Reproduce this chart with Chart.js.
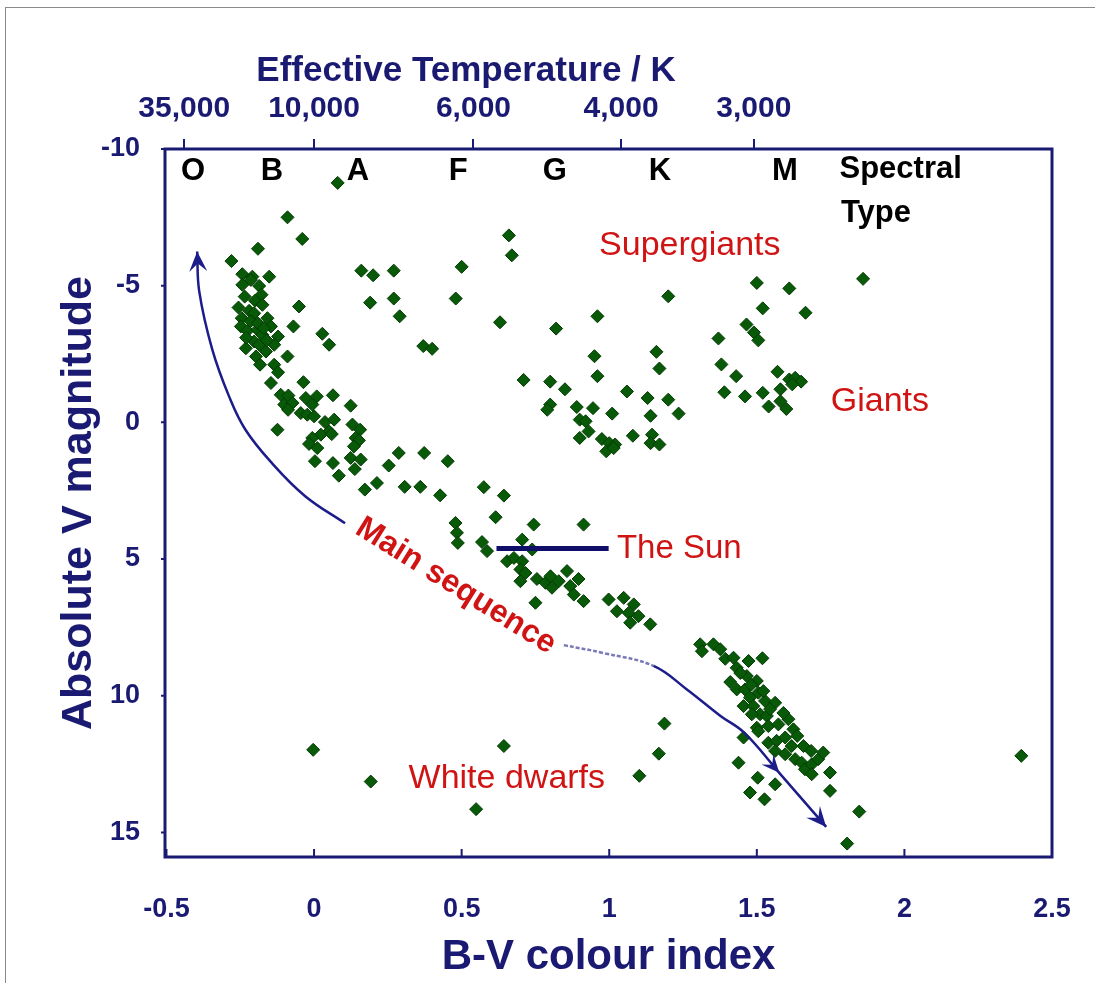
<!DOCTYPE html>
<html>
<head>
<meta charset="utf-8">
<script src="https://cdn.jsdelivr.net/npm/chart.js@4"></script>
<style>
  body { margin: 0; background: #fff; }
  #wrap { position: relative; width: 1095px; height: 983px; }
  #frame { position: absolute; left: 5px; top: 7px; right: 0; bottom: 0; border-top: 1px solid #8a8a8a; border-left: 1px solid #8a8a8a; }
  canvas { position: absolute; left: 0; top: 0; }
</style>
</head>
<body>
<div id="wrap">
  <div id="frame"></div>
  <canvas id="hrChart" width="1095" height="983"></canvas>
</div>
<script>
// [B-V, absolute V magnitude]
const supergiants = [
  [0.08, -8.76], [-0.09, -7.5], [-0.04, -6.71], [-0.19, -6.35], [-0.28, -5.9],
  [0.16, -5.55], [0.2, -5.38], [0.27, -5.55], [0.19, -4.38], [0.27, -4.53],
  [0.29, -3.88], [0.5, -5.69], [0.48, -4.53], [0.37, -2.79], [0.4, -2.69],
  [0.66, -6.84], [0.67, -6.11], [0.63, -3.66], [0.82, -3.43], [0.96, -3.88],
  [1.2, -4.61], [1.5, -5.1], [1.61, -4.9], [1.86, -5.25], [1.52, -4.17],
  [1.665, -4.01], [1.37, -3.07], [1.465, -3.58], [1.49, -3.29], [1.505, -3.0]
];
const giants = [
  [0.95, -2.42], [0.96, -1.69], [1.16, -2.58], [1.17, -1.97], [1.38, -2.12],
  [1.43, -1.69], [1.57, -1.85], [1.61, -1.57], [1.63, -1.63], [1.65, -1.49],
  [1.62, -1.39], [1.58, -1.21], [1.52, -1.08], [1.54, -0.58], [1.58, -0.77],
  [1.6, -0.49], [1.39, -1.1], [1.46, -0.95],
  [0.71, -1.55], [0.8, -1.49], [0.85, -1.21], [0.89, -0.56], [0.9, -0.1],
  [0.92, -0.04], [0.93, 0.33], [0.9, 0.57], [0.945, -0.52], [0.975, 0.61],
  [1.0, 0.76], [1.02, 0.81], [0.99, 1.06], [1.015, 0.94], [1.01, -0.32],
  [1.06, -1.13], [1.13, -0.89], [1.08, 0.49], [1.14, -0.24], [1.145, 0.45],
  [1.14, 0.76], [1.17, 0.81], [1.2, -0.83], [1.235, -0.32], [0.8, -0.65], [0.79, -0.46]
];
const upperMainSequence = [
  [-0.243, -5.42], [-0.209, -5.33], [-0.152, -5.33], [-0.243, -5.03], [-0.186, -4.99],
  [-0.178, -4.67], [-0.214, -5.21], [-0.051, -4.24], [-0.256, -4.2], [-0.22, -4.08],
  [-0.203, -3.99], [-0.158, -3.81], [-0.245, -3.81], [-0.07, -3.51], [-0.248, -3.51],
  [-0.226, -3.35], [-0.192, -3.39], [-0.175, -3.2], [-0.146, -3.51], [-0.122, -3.14],
  [0.028, -3.24], [0.051, -2.84], [-0.231, -2.71], [-0.203, -2.96], [-0.186, -2.84],
  [-0.163, -2.59], [-0.135, -2.84], [-0.197, -2.41], [-0.183, -2.11], [-0.09, -2.41],
  [-0.135, -2.11], [-0.122, -1.83], [-0.146, -1.44], [-0.036, -1.47], [-0.113, -1.01],
  [-0.087, -0.98], [-0.101, -0.65], [-0.073, -0.71], [-0.088, -0.46], [-0.124, 0.27],
  [-0.028, -0.89], [0.009, -0.95], [-0.006, -0.65], [-0.045, -0.34], [-0.023, -0.28],
  [0.0, -0.22], [0.064, -0.99], [0.124, -0.61], [0.037, -0.01], [0.068, -0.1],
  [0.051, 0.33], [0.023, 0.45], [-0.006, 0.57], [-0.017, 0.79], [0.011, 0.94],
  [0.06, 0.43], [0.13, 0.08], [0.156, 0.27], [0.141, 0.57], [0.152, 0.66],
  [0.135, 0.88], [0.124, 1.3], [0.158, 1.36], [0.003, 1.42], [0.064, 1.49],
  [0.138, 1.71], [0.084, 1.95], [-0.215, -3.7], [-0.19, -3.62], [-0.17, -3.45],
  [-0.23, -3.1], [-0.16, -3.0], [-0.2, -4.45], [-0.175, -4.3], [-0.235, -4.6]
];
const middleMainSequence = [
  [0.172, 2.46], [0.213, 2.22], [0.253, 1.58], [0.287, 1.12], [0.373, 1.12],
  [0.453, 1.42], [0.307, 2.36], [0.36, 2.36], [0.427, 2.67], [0.479, 3.68],
  [0.484, 4.04], [0.487, 4.41], [0.575, 2.37], [0.643, 2.68], [0.615, 3.47],
  [0.744, 3.74], [0.913, 3.74], [0.569, 4.38], [0.586, 4.71], [0.705, 4.29],
  [0.739, 4.65], [0.654, 5.08], [0.677, 4.96], [0.705, 5.08], [0.699, 5.38],
  [0.716, 5.51], [0.699, 5.81], [0.755, 5.73], [0.784, 5.87], [0.801, 5.63],
  [0.829, 5.81], [0.806, 6.05], [0.857, 5.44], [0.896, 5.73], [0.868, 5.99],
  [0.88, 6.3], [0.913, 6.54], [0.75, 6.6], [0.998, 6.48], [1.049, 6.42],
  [1.083, 6.66], [1.026, 6.91], [1.066, 6.97], [1.099, 7.09], [1.071, 7.33], [1.139, 7.39]
];
const lowerMainSequence = [
  [1.308, 8.12], [1.314, 8.37], [1.353, 8.12], [1.376, 8.3], [1.393, 8.65],
  [1.421, 8.61], [1.432, 8.98], [1.472, 8.73], [1.519, 8.63], [1.466, 9.28],
  [1.5, 9.46], [1.41, 9.5], [1.432, 9.77], [1.46, 9.77], [1.505, 9.89],
  [1.477, 10.07], [1.455, 10.38], [1.488, 10.38], [1.528, 10.19], [1.562, 10.26],
  [1.511, 10.68], [1.483, 10.68], [1.534, 10.74], [1.5, 11.17], [1.539, 11.11],
  [1.573, 11.05], [1.607, 10.86], [1.624, 11.23], [1.539, 11.72], [1.567, 11.65],
  [1.596, 11.53], [1.618, 11.84], [1.658, 11.84], [1.562, 12.02], [1.596, 12.14],
  [1.63, 12.32], [1.652, 12.45], [1.663, 12.69], [1.686, 12.51], [1.708, 12.32],
  [1.725, 12.08], [1.686, 12.87], [1.748, 12.81], [1.748, 13.48], [1.455, 11.53],
  [1.438, 12.45], [1.503, 13.0], [1.562, 13.24], [1.477, 13.54], [1.526, 13.79],
  [1.444, 9.17], [1.481, 9.6], [1.522, 9.83], [1.545, 10.49], [1.59, 10.63],
  [1.505, 11.3], [1.637, 11.47], [1.684, 12.02],
  [1.187, 11.02], [1.168, 12.12], [1.102, 12.93], [1.806, 15.41], [1.847, 14.24], [2.396, 12.2]
];
const whiteDwarfs = [[-0.003, 11.98], [0.192, 13.14], [0.643, 11.84], [0.549, 14.15]];

// annotation lines
const upperArrow = [[-0.396, -6.25], [-0.389, -4.79], [-0.345, -2.67], [-0.288, -0.95],
  [-0.233, 0.26], [-0.142, 1.5], [-0.03, 2.7], [0.105, 3.69]];
const lowerArrow = [[0.846, 8.15], [0.981, 8.44], [1.15, 8.91], [1.262, 9.76], [1.377, 10.74],
  [1.458, 11.36], [1.576, 12.82], [1.735, 14.8]];
const sunLine = [[0.618, 4.61], [0.998, 4.61]];

// axes
const xTicks = [-0.5, 0, 0.5, 1, 1.5, 2, 2.5];
const yTicks = [-10, -5, 0, 5, 10, 15];
const tempLabels = ['35,000', '10,000', '6,000', '4,000', '3,000'];
const tempBV = [-0.44, 0, 0.54, 1.04, 1.49];
const spectralTypes = ['O', 'B', 'A', 'F', 'G', 'K', 'M'];
const spectralBV = [-0.41, -0.143, 0.149, 0.488, 0.816, 1.172, 1.595];

const NAVY = '#1a1a72';
const ARROW = '#1c1c8a';
const RED = '#d01414';
const FONT = "'Liberation Sans', Arial, sans-serif";
Chart.defaults.font.family = FONT;

const toXY = arr => arr.map(p => ({x: p[0], y: p[1]}));
const stars = (label, arr) => ({
  label, data: toXY(arr), order: 2,
  pointStyle: 'rectRot', pointRadius: 6.5, pointHoverRadius: 6.5,
  backgroundColor: '#085a08', borderColor: '#033a03', borderWidth: 1
});
const path = (label, arr, color, width) => ({
  label, data: toXY(arr), order: 1, showLine: true, tension: 0.4,
  pointRadius: 0, borderColor: color, borderWidth: width
});
// keep the plot box where the reference has it
const noSidePadding = s => { s.paddingLeft = 0; s.paddingRight = 0; };

function head(ctx, x1, y1, x0, y0, len, half) {
  const a = Math.atan2(y1 - y0, x1 - x0);
  const c = Math.cos(a), s = Math.sin(a);
  const bx = x1 - len * c, by = y1 - len * s;
  ctx.beginPath();
  ctx.moveTo(x1, y1);
  ctx.lineTo(bx - half * s, by + half * c);
  ctx.lineTo(x1 - len * 0.6 * c, y1 - len * 0.6 * s);
  ctx.lineTo(bx + half * s, by - half * c);
  ctx.closePath();
  ctx.fill();
}

const annotate = {
  id: 'annotate',
  afterDatasetsDraw(chart) {
    const {ctx, chartArea: a, scales: {x, y}} = chart;
    const px = v => x.getPixelForValue(v), py = v => y.getPixelForValue(v);
    ctx.save();
    ctx.strokeStyle = NAVY;
    ctx.lineWidth = 3;
    ctx.strokeRect(a.left, a.top, a.right - a.left, a.bottom - a.top);
    ctx.lineWidth = 2;
    ctx.beginPath();
    xTicks.forEach(v => { ctx.moveTo(px(v), a.bottom); ctx.lineTo(px(v), a.bottom - 8); });
    yTicks.forEach(v => { ctx.moveTo(a.left - 4, py(v)); ctx.lineTo(a.left, py(v)); });
    ctx.stroke();

    // arrow heads
    ctx.fillStyle = ARROW;
    const u = upperArrow, l = lowerArrow, n = l.length;
    head(ctx, px(u[0][0]), py(u[0][1]), px(u[1][0]), py(u[1][1]), 20, 9);
    head(ctx, px(l[n - 1][0]), py(l[n - 1][1]), px(l[n - 2][0]), py(l[n - 2][1]), 20, 9);
    head(ctx, px(l[n - 2][0]), py(l[n - 2][1]), px(l[n - 3][0]), py(l[n - 3][1]), 18, 8);

    ctx.textBaseline = 'middle';
    ctx.fillStyle = '#000';
    ctx.font = 'bold 31px ' + FONT;
    ctx.textAlign = 'center';
    spectralTypes.forEach((t, i) => ctx.fillText(t, px(spectralBV[i]), py(-9.17)));
    ctx.textAlign = 'left';
    ctx.fillText('Spectral', px(1.78), py(-9.24));
    ctx.fillText('Type', px(1.785), py(-7.64));

    ctx.fillStyle = RED;
    ctx.font = '34px ' + FONT;
    ctx.textAlign = 'center';
    ctx.fillText('Supergiants', px(1.273), py(-6.47));
    ctx.fillText('Giants', px(1.917), py(-0.77));
    ctx.fillText('White dwarfs', px(0.653), py(13.04));
    ctx.textAlign = 'left';
    ctx.font = '33px ' + FONT;
    ctx.fillText('The Sun', px(1.026), py(4.64));
    ctx.save();
    ctx.translate(px(0.48), py(5.99));
    ctx.rotate(32 * Math.PI / 180);
    ctx.textAlign = 'center';
    ctx.font = 'bold 32px ' + FONT;
    ctx.fillText('Main sequence', 0, 0);
    ctx.restore();

    ctx.fillStyle = NAVY;
    ctx.font = 'bold 35px ' + FONT;
    ctx.textAlign = 'center';
    ctx.fillText('Effective Temperature / K', px(0.515), a.top - 78);
    ctx.restore();
  }
};

const myChart = new Chart(
  document.getElementById('hrChart'),
  {
    type: 'scatter',
    data: {
      datasets: [
        path('Sun', sunLine, '#0f0f6a', 5),
        path('Main sequence arrow', upperArrow, ARROW, 2.5),
        Object.assign(path('Main sequence arrow (lower)', lowerArrow, ARROW, 2.5), {
          segment: {
            borderColor: c => c.p0DataIndex < 2 ? '#7a7ab8' : ARROW,
            borderDash: c => c.p0DataIndex < 2 ? [4, 2] : []
          }
        }),
        stars('Supergiants', supergiants),
        stars('Giants', giants),
        stars('Main sequence (upper)', upperMainSequence),
        stars('Main sequence (middle)', middleMainSequence),
        stars('Main sequence (lower)', lowerMainSequence),
        stars('White dwarfs', whiteDwarfs)
      ]
    },
    options: {
      responsive: false,
      animation: false,
      layout: {padding: {left: 0, right: 43, top: 0, bottom: 0}},
      plugins: {legend: {display: false}, tooltip: {enabled: false}},
      scales: {
        x: {
          type: 'linear', position: 'bottom', min: -0.505, max: 2.5,
          afterBuildTicks: s => { s.ticks = xTicks.map(v => ({value: v})); },
          afterFit: s => { s.height = 126; noSidePadding(s); },
          grid: {display: false, drawTicks: false},
          border: {display: false},
          ticks: {
            color: NAVY, font: {size: 27, weight: 'bold'}, padding: 36,
            autoSkip: false, maxRotation: 0, callback: v => String(v)
          },
          title: {display: true, text: 'B-V colour index', color: NAVY,
            font: {size: 42, weight: 'bold'}, padding: {top: 0, bottom: 0}}
        },
        x2: {
          type: 'linear', position: 'top', min: -0.505, max: 2.5,
          afterBuildTicks: s => { s.ticks = tempBV.map(v => ({value: v})); },
          afterFit: s => { s.height = 149; noSidePadding(s); },
          grid: {drawOnChartArea: false, drawTicks: true, tickLength: 10, color: NAVY, lineWidth: 2},
          border: {display: false},
          ticks: {
            color: NAVY, font: {size: 30, weight: 'bold'}, padding: 12,
            autoSkip: false, maxRotation: 0, callback: (v, i) => tempLabels[i]
          }
        },
        y: {
          type: 'linear', position: 'left', reverse: true, min: -10, max: 15.9,
          afterBuildTicks: s => { s.ticks = yTicks.map(v => ({value: v})); },
          afterFit: s => { s.width = 165; },
          grid: {display: false, drawTicks: false},
          border: {display: false},
          ticks: {color: NAVY, font: {size: 27, weight: 'bold'}, padding: 25, callback: v => String(v)},
          title: {display: true, text: 'Absolute V magnitude', color: NAVY,
            font: {size: 43, weight: 'bold'}, padding: {top: 53, bottom: 0}}
        }
      }
    },
    plugins: [annotate]
  }
);
</script>
</body>
</html>
